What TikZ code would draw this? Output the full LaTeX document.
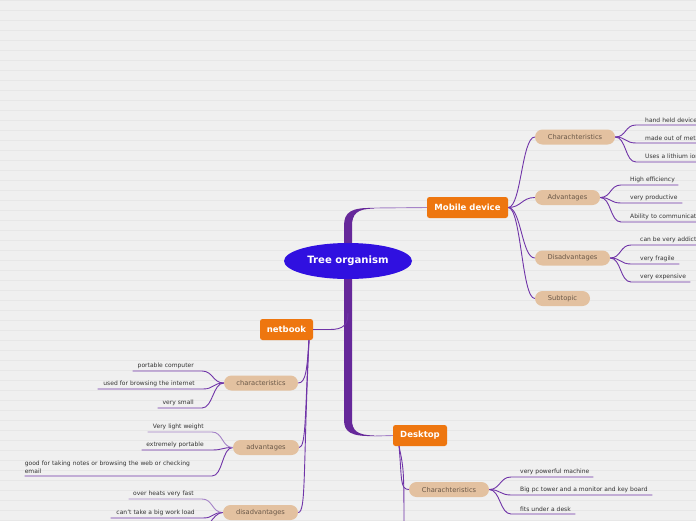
\documentclass[tikz,border=0pt]{standalone}
\usepackage{fontspec}
\setmainfont{DejaVu Sans}
\usetikzlibrary{shapes.geometric}
\definecolor{bgc}{HTML}{F0F0F0}
\definecolor{bgline}{HTML}{E7E7E7}
\definecolor{rootc}{HTML}{3010E0}
\definecolor{orangec}{HTML}{EE760F}
\definecolor{tanc}{HTML}{E3C1A0}
\definecolor{tantext}{HTML}{6A5848}
\definecolor{leaftext}{HTML}{333333}
\definecolor{purp}{HTML}{7034A8}
\definecolor{lpurp}{HTML}{A684C8}
\definecolor{trunkc}{HTML}{66289A}
\tikzset{
  root/.style={ellipse, fill=rootc, text=white, minimum width=128pt, minimum height=36pt, inner sep=0,
    font=\fontsize{10.1}{12}\selectfont\bfseries},
  mainbox/.style={fill=orangec, text=white, rounded corners=2.5pt, minimum height=21pt, inner sep=0,
    font=\fontsize{8.5}{10}\selectfont\bfseries},
  subbox/.style={fill=tanc, text=tantext, rounded corners=7.5pt, minimum height=15pt, inner sep=0,
    font=\fontsize{6.7}{8}\selectfont},
  leafR/.style={anchor=south west, align=left, inner xsep=0pt, inner ysep=1.8pt,
    font=\fontsize{6}{8.2}\selectfont, text=leaftext},
  leafL/.style={anchor=south east, align=right, inner xsep=0pt, inner ysep=1.8pt,
    font=\fontsize{6}{8.2}\selectfont, text=leaftext},
  conn/.style={draw=purp, line width=0.9pt},
  lconn/.style={draw=lpurp, line width=0.9pt},
}
\begin{document}
\begin{tikzpicture}[x=1pt,y=-1pt]
\useasboundingbox (0,0) rectangle (696,520);
\clip (0,0) rectangle (696,520);
\fill[bgc] (0,0) rectangle (696,520);
\foreach \k in {0,...,52} {\draw[bgline, line width=0.9pt] (0,10*\k) -- (696,10*\k);}

% trunk
\coordinate (ttop) at (374,208);
\coordinate (tbot) at (374,436);
\coordinate (tnet) at (348,313);
\fill[trunkc] (ttop) .. controls (351,207.4) and (344,212) .. (344,226) -- (344,420)
  .. controls (344,432) and (351,436.6) .. (tbot) -- (374,435.4)
  .. controls (357,435.4) and (352,430) .. (352,420) -- (352,226)
  .. controls (352,214) and (357,208.6) .. (374,208.6) -- cycle;

% main nodes
\node[root] (root) at (348,261) {Tree organism};
\node[mainbox, minimum width=81pt] (mob) at (467.5,207.5) {Mobile device};
\node[mainbox, minimum width=53pt] (net) at (286.5,329.5) {netbook};
\node[mainbox, minimum width=54pt] (desk) at (420,435.5) {Desktop};

\draw[lconn] (ttop) -- (mob.west);
\draw[lconn] (tbot) -- (desk.west);
\draw[conn] (net.east) -- (330,329.5) .. controls (343,329.5) and (348,325) .. (tnet);

% subtopics
\node[subbox, minimum width=80pt] (mc) at (575,137) {Charachteristics};
\node[subbox, minimum width=65pt] (ma) at (567.5,197.5) {Advantages};
\node[subbox, minimum width=75pt] (md) at (572.5,258) {Disadvantages};
\node[subbox, minimum width=55pt] (ms) at (562.5,298.5) {Subtopic};
\node[subbox, minimum width=74pt] (nc) at (261,383) {characteristics};
\node[subbox, minimum width=66pt] (na) at (266,447.5) {advantages};
\node[subbox, minimum width=75pt] (nd) at (260.5,512.5) {disadvantages};
\node[subbox, minimum width=80pt] (dc) at (449,489.5) {Charachteristics};

\foreach \s in {mc,ma,md,ms}
  \draw[conn] (mob.east) .. controls +(13,0) and +(-13,0) .. (\s.west);

\coordinate (nstart) at (309,340);
\draw[conn] (nstart) .. controls +(-2,28) and +(8,0) .. (nc.east);
\draw[conn] (nstart) .. controls +(-4,70) and +(7,0) .. (na.east);
\draw[conn] (nstart) .. controls +(-6,130) and +(8,0) .. (nd.east);

\coordinate (dstart) at (399,446);
\coordinate (dlow) at (404,540);
\draw[conn] (dstart) .. controls +(3,32) and +(-9,0) .. (dc.west);
\draw[conn] (dstart) .. controls (404,470) .. (dlow);

% leaves right
\node[leafR, text width=80pt] (m1) at (645,125) {hand held device};
\node[leafR, text width=80pt] (m2) at (645,143) {made out of metal};
\node[leafR, text width=80pt] (m3) at (645,162) {Uses a lithium ion battery};
\node[leafR, text width=48pt] (a1) at (630,185) {High efficiency};
\node[leafR, text width=52pt] (a2) at (630,203) {very productive};
\node[leafR, text width=80pt] (a3) at (630,222) {Ability to communicate};
\node[leafR, text width=70pt] (d1) at (640,245) {can be very addictive};
\node[leafR, text width=39pt] (d2) at (640,264) {very fragile};
\node[leafR, text width=50pt] (d3) at (640,282) {very expensive};
\node[leafR, text width=73pt] (e1) at (520,477) {very powerful machine};
\node[leafR, text width=132pt] (e2) at (520,495) {Big pc tower and a monitor and key board};
\node[leafR, text width=55pt] (e3) at (520,514) {fits under a desk};

\foreach \p/\l in {mc/m1,mc/m2,mc/m3,ma/a1,ma/a2,ma/a3,md/d1,md/d2,md/d3,dc/e1,dc/e2,dc/e3}
  \draw[conn] (\p.east) .. controls +(11,0) and +(-11,0) .. ([xshift=-9pt]\l.south west) -- (\l.south east);

% leaves left
\node[leafL, text width=61pt] (n1) at (194,371) {portable computer};
\node[leafL, text width=97pt] (n2) at (195,389) {used for browsing the internet};
\node[leafL, text width=36pt] (n3) at (194,408) {very small};
\node[leafL, text width=56pt] (v1) at (204,432) {Very light weight};
\node[leafL, text width=62pt] (v2) at (204,450) {extremely portable};
\node[leafL, text width=179pt, align=left] (v3) at (204,476) {good for taking notes or browsing the web or checking\\email};
\node[leafL, text width=65pt] (x1) at (194,499) {over heats very fast};
\node[leafL, text width=84pt] (x2) at (195,518) {can't take a big work load};
\coordinate (x3) at (200,545);

\foreach \p/\l in {nc/n1,nc/n2,nc/n3,na/v2,na/v3,nd/x2}
  \draw[conn] (\p.west) .. controls +(-11,0) and +(11,0) .. ([xshift=8pt]\l.south east) -- (\l.south west);
\foreach \p/\l in {na/v1,nd/x1}
  \draw[lconn] (\p.west) .. controls +(-11,0) and +(11,0) .. ([xshift=8pt]\l.south east) -- (\l.south west);
\draw[conn] (nd.west) .. controls +(-10,0) and +(4,-12) .. (x3);
\end{tikzpicture}
\end{document}
